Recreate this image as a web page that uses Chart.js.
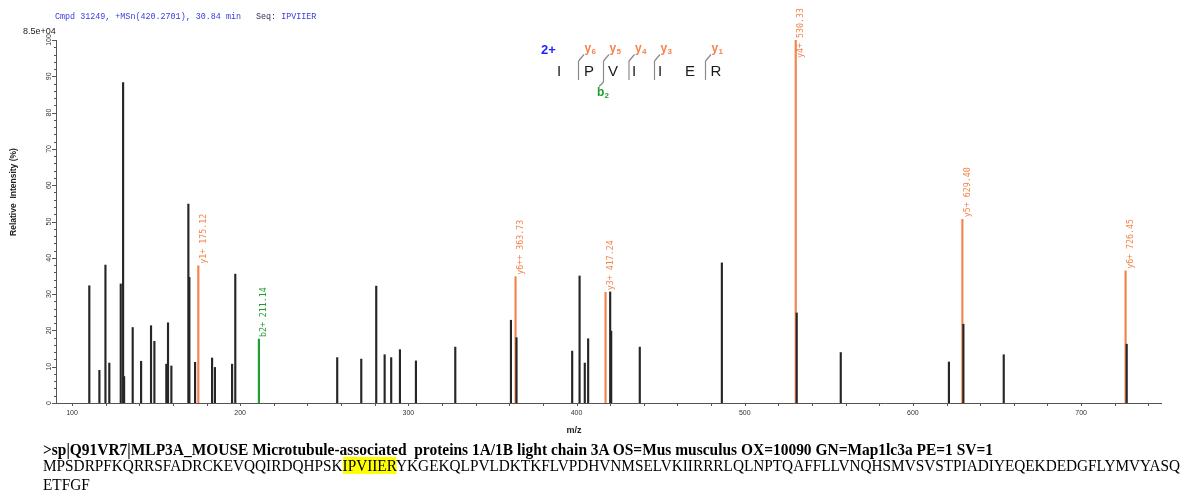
<!DOCTYPE html>
<html><head><meta charset="utf-8">
<script src="https://cdn.jsdelivr.net/npm/chart.js@4.4.0/dist/chart.umd.min.js"></script>
<style>
html,body{margin:0;padding:0;background:#fff;width:1203px;height:498px;overflow:hidden}
#wrap{position:relative;width:1203px;height:498px}
canvas{position:absolute;left:0;top:0}
.ln{position:absolute;left:43px;white-space:pre;font-family:"Liberation Serif","Times New Roman",serif;font-size:16px;line-height:18px;color:#000;transform-origin:0 0}
.hl{background:#ffff00}
</style></head><body>
<div id="wrap"><canvas id="c" width="1203" height="498"></canvas>
<div class="ln" id="l1" style="top:441px;font-weight:bold"></div>
<div class="ln" id="l2" style="top:457px"></div>
<div class="ln" id="l3" style="top:476px"></div>
</div>
<script>
// ---- data ----
const otherMz  = [110.3,116.3,119.9,122.2,129.0,130.4,131.0,136.1,141.1,147.0,149.0,156.1,157.1,159.1,169.2,169.8,173.2,183.3,185.0,195.2,197.1,257.7,272.0,280.9,285.9,289.8,295.0,304.5,327.9,361.0,364.3,397.4,401.8,404.9,406.9,420.0,420.6,437.6,486.4,530.9,557.1,621.4,630.0,654.0,727.1];
const otherInt = [32.3,9.0,38.0,11.0,32.8,88.3,7.3,20.8,11.5,21.3,17.0,10.7,22.1,10.2,54.8,34.6,11.2,12.4,9.8,10.7,35.5,12.5,12.1,32.2,13.3,12.5,14.7,11.6,15.4,22.8,18.0,14.3,35.0,11.0,17.7,30.6,19.8,15.4,38.6,24.8,13.9,11.3,21.7,13.3,16.2];
const yIonMz  = [175.12,363.73,417.24,530.33,629.40,726.45];
const yIonInt = [37.8,34.8,30.5,100,50.6,36.4];
const yIonLabels = ["y1+ 175.12","y6++ 363.73","y3+ 417.24","y4+ 530.33","y5+ 629.40","y6+ 726.45"];
const bIonMz  = [211.14];
const bIonInt = [17.6];
const bIonLabels = ["b2+ 211.14"];
const xLabelValues = [100,200,300,400,500,600,700];
const yLabelValues = [0,10,20,30,40,50,60,70,80,90,100];
const headerText = "Cmpd 31249, +MSn(420.2701), 30.84 min   ";
const seqLabel = "Seq: ";
const peptide = "IPVIIER";
const peptideResidues = ["I","P","V","I","I","E","R"];
const proteinHeader = ">sp|Q91VR7|MLP3A_MOUSE Microtubule-associated  proteins 1A/1B light chain 3A OS=Mus musculus OX=10090 GN=Map1lc3a PE=1 SV=1";
const proteinSeq = "MPSDRPFKQRRSFADRCKEVQQIRDQHPSKIPVIIERYKGEKQLPVLDKTKFLVPDHVNMSELVKIIRRRLQLNPTQAFFLLVNQHSMVSVSTPIADIYEQEKDEDGFLYMVYASQETFGF";

const ORANGE = '#f5834b', GREEN = '#1f9e33', BLACK = '#262626';

const toXY = (xs, ys) => xs.map((x,i)=>({x, y: ys[i]}));

function line(ctx,x1,y1,x2,y2){ctx.beginPath();ctx.moveTo(x1,y1);ctx.lineTo(x2,y2);ctx.stroke();}

function drawPeakLabels(ctx, chart, di, labels, color){
  const meta = chart.getDatasetMeta(di);
  ctx.save();
  ctx.font = '8.3px "DejaVu Sans Mono", monospace';
  ctx.fillStyle = color;
  meta.data.forEach((el,i)=>{
    const w = ctx.measureText(labels[i]).width;
    const sy = Math.max(el.y - 2, w + 8);
    ctx.save();
    ctx.translate(el.x + 1, sy);
    ctx.rotate(-Math.PI/2);
    ctx.textAlign = 'left'; ctx.textBaseline = 'top';
    ctx.fillText(labels[i], 0, 0);
    ctx.restore();
  });
  ctx.restore();
}

const annot = {
  id: 'annot',
  afterDatasetsDraw(chart){
    const ctx = chart.ctx;
    drawPeakLabels(ctx, chart, 1, yIonLabels, ORANGE);
    drawPeakLabels(ctx, chart, 2, bIonLabels, GREEN);
  },
  afterDraw(chart){
    const ctx = chart.ctx, xs = chart.scales.x, ys = chart.scales.y;
    const a = chart.chartArea;
    ctx.save();
    ctx.strokeStyle = '#555'; ctx.lineWidth = 1;
    xs.ticks.forEach(t=>{
      const px = Math.round(xs.getPixelForValue(t.value)) + 0.5;
      line(ctx, px, a.bottom, px, a.bottom + 3);
    });
    ys.ticks.forEach(t=>{
      const py = Math.round(ys.getPixelForValue(t.value)) + 0.5;
      const len = (t.value % 10 === 0) ? 4 : 2;
      line(ctx, a.left - len, py, a.left, py);
    });
    // tick labels
    ctx.fillStyle = '#333';
    ctx.font = '7px "Liberation Sans", Arial, sans-serif';
    ctx.textAlign = 'center'; ctx.textBaseline = 'middle';
    xLabelValues.forEach(v=>{ ctx.fillText(String(v), xs.getPixelForValue(v), a.bottom + 10); });
    yLabelValues.forEach(v=>{
      ctx.save();
      ctx.translate(a.left - 7, ys.getPixelForValue(v));
      ctx.rotate(-Math.PI/2);
      ctx.fillText(String(v), 0, 0);
      ctx.restore();
    });
    // axis titles
    ctx.fillStyle = '#222';
    ctx.font = 'bold 9px "Liberation Sans", Arial, sans-serif';
    ctx.fillText('m/z', 574, 431);
    ctx.save();
    ctx.translate(14, 192); ctx.rotate(-Math.PI/2);
    ctx.font = 'bold 8.5px "Liberation Sans", Arial, sans-serif';
    ctx.fillText('Relative  Intensity (%)', 0, 0);
    ctx.restore();
    // scale factor
    ctx.textAlign = 'left'; ctx.textBaseline = 'alphabetic';
    ctx.font = '9px "Liberation Sans", Arial, sans-serif';
    ctx.fillStyle = '#222';
    ctx.fillText('8.5e+04', 23, 34);
    // header
    ctx.font = '8.4px "Liberation Mono", "DejaVu Sans Mono", monospace';
    ctx.fillStyle = '#3a3ae0';
    ctx.fillText(headerText, 55, 19);
    let hx = 55 + ctx.measureText(headerText).width;
    ctx.fillStyle = '#2e2e55';
    ctx.fillText(seqLabel, hx, 19);
    hx += ctx.measureText(seqLabel).width;
    ctx.fillStyle = '#3a3ae0';
    ctx.fillText(peptide, hx, 19);
    // peptide fragmentation diagram
    ctx.fillStyle = '#2222ff';
    ctx.font = 'bold 13px "Liberation Sans", Arial, sans-serif';
    ctx.fillText('2+', 541, 54);
    ctx.fillStyle = '#1a1a1a';
    ctx.font = '15px "Liberation Sans", Arial, sans-serif';
    ctx.textAlign = 'center';
    const resX = [559, 589, 613, 634, 660, 690, 716];
    peptideResidues.forEach((r,i)=> ctx.fillText(r, resX[i], 76));
    ctx.strokeStyle = '#8a8a8a'; ctx.lineWidth = 1.2;
    const yCuts = [[578.5,'6'],[603.5,'5'],[629,'4'],[654.5,'3'],[705.5,'1']];
    ctx.textAlign = 'left';
    yCuts.forEach(([bx,n])=>{
      line(ctx, bx, 80, bx, 61);
      line(ctx, bx, 61, bx+5.5, 54.5);
      ctx.fillStyle = ORANGE;
      ctx.font = 'bold 12px "Liberation Sans", Arial, sans-serif';
      ctx.fillText('y', bx+6, 52);
      ctx.font = 'bold 8px "Liberation Sans", Arial, sans-serif';
      ctx.fillText(n, bx+13, 54);
    });
    // b2
    line(ctx, 603.5, 80, 603.5, 82);
    line(ctx, 603.5, 82, 599, 86.5);
    ctx.fillStyle = GREEN;
    ctx.font = 'bold 12px "Liberation Sans", Arial, sans-serif';
    ctx.fillText('b', 597, 96);
    ctx.font = 'bold 8px "Liberation Sans", Arial, sans-serif';
    ctx.fillText('2', 604.5, 98);
    ctx.restore();
  }
};

new Chart(document.getElementById('c'), {
  type: 'bar',
  data: {
    datasets: [
      { data: toXY(otherMz, otherInt), backgroundColor: BLACK },
      { data: toXY(yIonMz, yIonInt), backgroundColor: ORANGE },
      { data: toXY(bIonMz, bIonInt), backgroundColor: GREEN }
    ]
  },
  options: {
    responsive: false, animation: false,
    datasets: { bar: { barThickness: 1.5, grouped: false, borderWidth: 0 } },
    layout: { padding: { left: 0, top: 40, right: 42, bottom: 0 } },
    plugins: { legend: { display: false }, tooltip: { enabled: false } },
    scales: {
      x: {
        type: 'linear', min: 90.5, max: 747.5, offset: false,
        ticks: { display: false, stepSize: 20, includeBounds: false, autoSkip: false },
        grid: { display: false },
        border: { display: true, color: '#555', width: 1 },
        afterFit: s => { s.height = 95; }
      },
      y: {
        min: 0, max: 100,
        ticks: { display: false, stepSize: 2, autoSkip: false },
        grid: { display: false },
        border: { display: true, color: '#555', width: 1 },
        afterFit: s => { s.width = 56; }
      }
    }
  },
  plugins: [annot]
});

// ---- protein text ----
const l1 = document.getElementById('l1'), l2 = document.getElementById('l2'), l3 = document.getElementById('l3');
l1.textContent = proteinHeader;
const lineLen = 116;
const first = proteinSeq.slice(0, lineLen), rest = proteinSeq.slice(lineLen);
const pi = first.indexOf(peptide);
l2.innerHTML = '';
l2.appendChild(document.createTextNode(first.slice(0, pi)));
const hs = document.createElement('span'); hs.className = 'hl'; hs.textContent = peptide; l2.appendChild(hs);
l2.appendChild(document.createTextNode(first.slice(pi + peptide.length)));
l3.textContent = rest;
function fit(){
  const s1 = 950 / l1.getBoundingClientRect().width;
  l1.style.transform = 'scaleX(' + s1 + ')';
  const s2 = 1137 / l2.getBoundingClientRect().width;
  l2.style.transform = 'scaleX(' + s2 + ')';
  l3.style.transform = 'scaleX(' + s2 + ')';
}
fit();
</script>
</body></html>
